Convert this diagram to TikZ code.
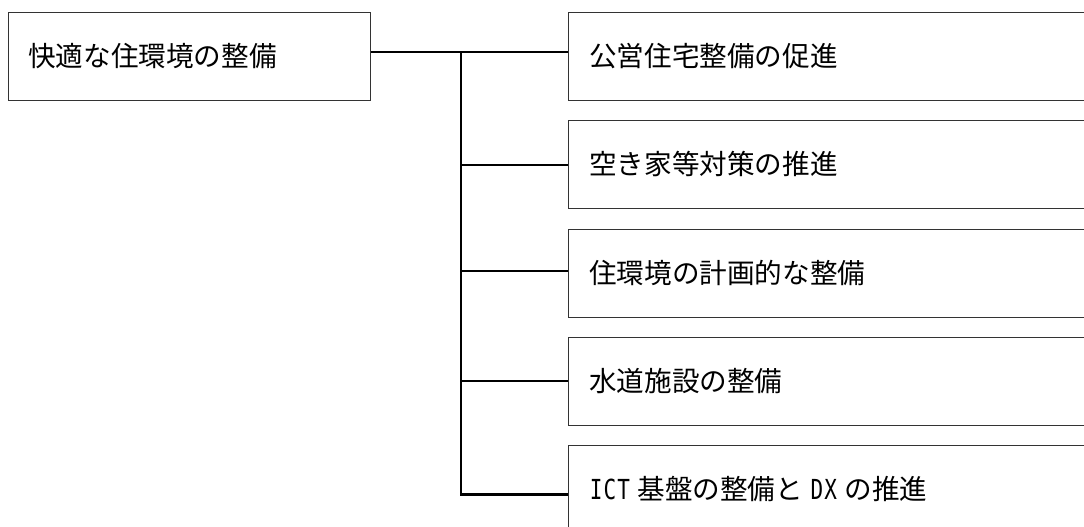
\documentclass[tikz,border=0pt]{standalone}
\usepackage{fontspec}
\usepackage{graphicx}
\setmainfont{Noto Sans CJK JP}
\newfontfamily\hwmono{DejaVu Sans Mono}
\newcommand{\hw}[1]{\makebox[0.5em]{\scalebox{0.76}[1]{\hwmono #1}}}
\begin{document}
\begin{tikzpicture}[x=1pt,y=-1pt,
  boxst/.style={draw=black!80,line width=1.2pt,fill=white,inner sep=0pt,anchor=north west},
  lbl/.style={anchor=west,inner sep=0pt,font=\fontsize{27.6}{30}\selectfont},
  conn/.style={draw=black,line width=2.3pt}]
\useasboundingbox (0,0) rectangle (1084,527);
\clip (0,0) rectangle (1084,527);
\node[boxst,minimum width=362pt,minimum height=87.5pt] (L) at (8,12) {};
\node[lbl] (Lt) at (28,56) {快適な住環境の整備};
\foreach \i/\t in {1/12,2/120,3/229,4/337,5/445}{
  \node[boxst,minimum width=540pt,minimum height=87.5pt] (R\i) at (568,\t) {};
}
\node[lbl] (T1) at (589,56) {公営住宅整備の促進};
\node[lbl] (T2) at (589,164) {空き家等対策の推進};
\node[lbl] (T3) at (589,273) {住環境の計画的な整備};
\node[lbl] (T4) at (589,381) {水道施設の整備};
\node[lbl] (T5) at (589,489) {\hw{I}\hw{C}\hw{T}\hspace{0.25em}基盤の整備と\hspace{0.25em}\hw{D}\hw{X}\hspace{0.25em}の推進};
\coordinate (j1) at (461,52);
\coordinate (j2) at (461,165);
\coordinate (j3) at (461,271);
\coordinate (j4) at (461,381);
\coordinate (j5) at (461,494.5);
\draw[conn] (L.east |- j1) -- (R1.west |- j1);
\draw[conn] (j1) -- (j5) -- (R5.west |- j5);
\draw[conn] (j2) -- (R2.west |- j2);
\draw[conn] (j3) -- (R3.west |- j3);
\draw[conn] (j4) -- (R4.west |- j4);
\end{tikzpicture}
\end{document}
